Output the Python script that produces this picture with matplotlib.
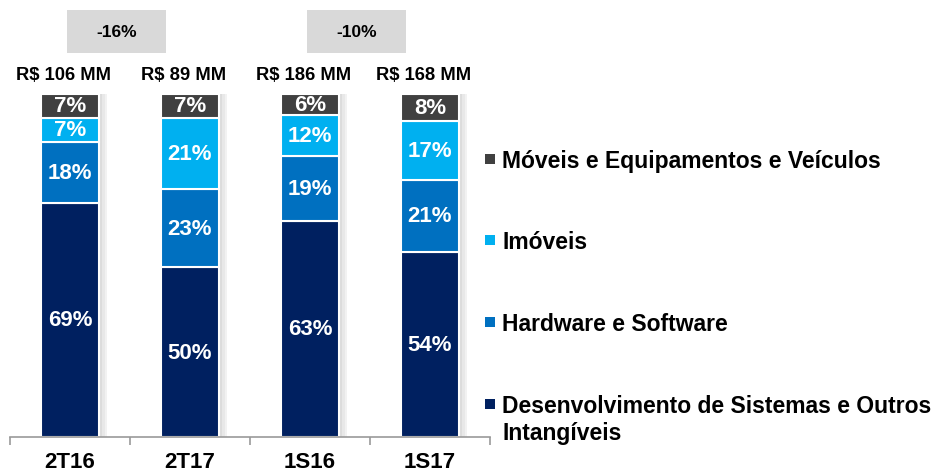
import matplotlib
matplotlib.use("Agg")
import matplotlib.pyplot as plt
from matplotlib.patches import Rectangle
import numpy as np

plt.rcParams['font.family'] = ['Liberation Sans', 'DejaVu Sans']
plt.rcParams['font.weight'] = 'bold'

# data
periods = ['2T16', '2T17', '1S16', '1S17']
totals = ['R$ 106 MM', 'R$ 89 MM', 'R$ 186 MM', 'R$ 168 MM']
desenvolvimento = [69, 50, 63, 54]
hardware = [18, 23, 19, 21]
imoveis = [7, 21, 12, 17]
moveis = [7, 7, 6, 8]
variacao = ['-16%', '-10%']

series = [desenvolvimento, hardware, imoveis, moveis]
names = ['Desenvolvimento de Sistemas e Outros\nIntangíveis',
         'Hardware e Software', 'Imóveis',
         'Móveis e Equipamentos e Veículos']
colors = ['#002060', '#0070C0', '#00B0F0', '#404040']

W, H = 944, 477
fig = plt.figure(figsize=(W / 100, H / 100), dpi=100)
ax = fig.add_axes([10 / W, (H - 438) / H, 480 / W, 343 / H])

x = np.arange(len(periods))
bw = 0.485

# 100% stacked: scale each column to its own sum
sums = np.sum(series, axis=0)

# soft shadow on the right of each bar
for k, c in enumerate(['#dcdcdc', '#e8e8e8', '#f2f2f2']):
    ax.bar(x + bw / 2 + 0.008 + k * 0.02, 100, width=0.02, color=c,
           align='edge', zorder=1)

bottom = np.zeros(len(periods))
for vals, col in zip(series, colors):
    h = np.array(vals) / sums * 100
    ax.bar(x, h, bw, bottom=bottom, color=col, edgecolor='white',
           linewidth=1.5, zorder=2)
    for xi, b, hh, v in zip(x, bottom, h, vals):
        ax.text(xi, b + hh / 2, f'{v}%', ha='center', va='center',
                color='white', fontsize=16, fontweight='bold', zorder=3)
    bottom += h

ax.set_xlim(-0.5, 3.5)
ax.set_ylim(0, 100)

# total labels above bars
for xi, t in zip(x, totals):
    ax.text(xi - 0.05, 105.6, t, ha='center', va='center', fontsize=13.2,
            fontweight='bold', color='black', clip_on=False)

# variation boxes
for i, v in enumerate(variacao):
    x0 = 2 * i - 0.025
    ax.add_patch(Rectangle((x0, 112), 0.825, 12.4, facecolor='#D9D9D9',
                           edgecolor='none', clip_on=False))
    ax.text(x0 + 0.4125, 118.2, v, ha='center', va='center', fontsize=12.5,
            fontweight='bold', clip_on=False)

# axis styling
for s in ['top', 'right', 'left']:
    ax.spines[s].set_visible(False)
ax.spines['bottom'].set_color('#999999')
ax.spines['bottom'].set_linewidth(1.2)
ax.set_yticks([])
ax.set_xticks(x)
ax.set_xticklabels(periods, fontsize=16, fontweight='bold')
ax.tick_params(axis='x', which='major', length=0, pad=10)
ax.set_xticks(np.arange(-0.5, 4, 1), minor=True)
ax.tick_params(axis='x', which='minor', length=6, color='#999999', width=1.2)

# legend (top to bottom)
row_y = [160, 241, 323, 405]
for i, (name, col) in enumerate(zip(names[::-1], colors[::-1])):
    yy = row_y[i]
    fig.add_artist(Rectangle((485 / W, (H - yy - 5) / H), 10 / W, 10 / H,
                             facecolor=col, edgecolor='none',
                             transform=fig.transFigure))
    for j, line in enumerate(name.split('\n')):
        fig.text(502 / W, (H - yy - 8 - 27 * j) / H, line, ha='left',
                 va='baseline', fontsize=16.5, fontweight='bold')

fig.savefig('out.png', dpi=100)
